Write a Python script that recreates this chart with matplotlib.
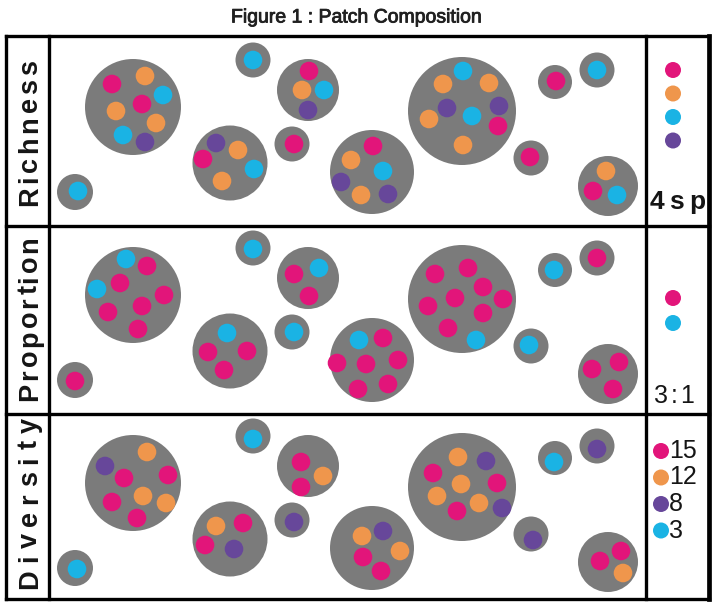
import matplotlib
matplotlib.use("Agg")
import matplotlib.pyplot as plt
import matplotlib.patheffects as pe
from matplotlib.patches import Circle
from matplotlib.font_manager import FontProperties
from matplotlib.textpath import TextToPath

# species colours
cols = {'m': '#e2157a', 'o': '#ef964c', 'c': '#1ab3e4', 'p': '#67479a'}
grey = '#7b7b7b'

title = "Figure 1 : Patch Composition"
row_names = ["Richness", "Proportion", "Diversity"]

# patch centres / radii (pixels, top panel), same layout repeated in each row
patch_x = [133, 253, 308, 230, 292, 75, 462, 372, 555, 597, 531, 608]
patch_y = [107, 60, 90, 163, 144, 192, 111, 172, 82, 70, 158, 186]
patch_r = [48, 17.5, 31, 37.5, 17.5, 18, 54, 42, 17, 17.5, 17.5, 30]
row_shift = [0, 188, 376]

# dots inside patches: (x, y, species)
dots_rich = [(112, 84, 'm'), (145, 76, 'o'), (163, 95, 'c'), (142, 104, 'm'), (116, 111, 'o'),
             (156, 123, 'o'), (123, 135, 'c'), (145, 142, 'p'),
             (253, 60, 'c'),
             (309, 71, 'm'), (302, 90, 'o'), (324, 90, 'c'), (308, 110, 'p'),
             (216, 143, 'p'), (238, 150, 'o'), (203, 159, 'm'), (254, 169, 'c'), (222, 181, 'o'),
             (294, 144, 'm'), (78, 191, 'c'),
             (463, 71, 'c'), (443, 84, 'o'), (489, 83, 'o'), (447, 108, 'p'), (472, 116, 'c'),
             (499, 106, 'p'), (429, 119, 'o'), (498, 126, 'm'), (463, 145, 'o'),
             (373, 146, 'm'), (351, 160, 'o'), (383, 171, 'c'), (341, 182, 'p'), (361, 195, 'o'),
             (388, 194, 'p'),
             (556, 81, 'm'), (597, 70, 'c'), (530, 157, 'm'),
             (606, 171, 'o'), (593, 191, 'm'), (617, 195, 'c')]

dots_prop = [(126, 259, 'c'), (147, 266, 'm'), (97, 289, 'c'), (120, 283, 'm'), (164, 295, 'm'),
             (108, 312, 'm'), (142, 306, 'm'), (138, 329, 'm'),
             (253, 249, 'c'),
             (294, 274, 'm'), (319, 268, 'c'), (309, 296, 'm'),
             (227, 333, 'c'), (208, 352, 'm'), (247, 351, 'm'), (224, 370, 'm'),
             (294, 332, 'c'), (75, 381, 'm'),
             (435, 274, 'm'), (468, 268, 'm'), (483, 287, 'm'), (455, 298, 'm'), (503, 299, 'm'),
             (428, 306, 'm'), (483, 313, 'm'), (448, 328, 'm'), (476, 340, 'c'),
             (359, 340, 'c'), (383, 338, 'm'), (337, 363, 'm'), (366, 364, 'm'), (398, 360, 'm'),
             (358, 389, 'm'), (388, 384, 'm'),
             (554, 270, 'c'), (597, 258, 'm'), (529, 345, 'c'),
             (592, 369, 'm'), (619, 362, 'm'), (613, 389, 'm')]

dots_div = [(105, 466, 'p'), (147, 452, 'o'), (124, 478, 'm'), (168, 475, 'm'), (143, 496, 'o'),
            (112, 502, 'm'), (166, 503, 'o'), (137, 518, 'm'),
            (253, 439, 'c'),
            (301, 462, 'm'), (323, 476, 'o'), (301, 487, 'm'),
            (216, 526, 'o'), (243, 523, 'm'), (205, 545, 'm'), (234, 549, 'p'),
            (294, 522, 'p'), (77, 569, 'c'),
            (458, 457, 'o'), (486, 461, 'p'), (433, 473, 'm'), (461, 484, 'o'), (497, 483, 'm'),
            (437, 496, 'o'), (479, 503, 'o'), (457, 511, 'm'), (502, 508, 'p'),
            (362, 536, 'o'), (383, 531, 'p'), (363, 557, 'm'), (400, 551, 'o'), (381, 571, 'm'),
            (554, 462, 'c'), (597, 449, 'p'), (533, 540, 'p'),
            (600, 561, 'm'), (621, 551, 'm'), (623, 573, 'o')]

# legend column
leg_rich = ['m', 'o', 'c', 'p']
leg_prop = ['m', 'c']
leg_div = ['m', 'o', 'p', 'c']
leg_div_counts = ['15', '12', '8', '3']
row_notes = ['4sp', '3:1']

fig = plt.figure(figsize=(7.13, 6.04), dpi=100)
ax = fig.add_axes([0, 0, 1, 1])
ax.set_xlim(0, 713)
ax.set_ylim(604, 0)
ax.axis('off')

# patches and dots
for sh in row_shift:
    for x, y, r in zip(patch_x, patch_y, patch_r):
        ax.add_patch(Circle((x, y + sh), r, color=grey, lw=0))
for d in dots_rich + dots_prop + dots_div:
    ax.add_patch(Circle((d[0], d[1]), 9.3, color=cols[d[2]], lw=0))

# frame
top, bot = 36, 599
rows = [36, 226, 414, 599]
lw = 2.4
ax.plot([6, 6], [top, bot], color='k', lw=lw, solid_capstyle='projecting')
ax.plot([709, 709], [top, bot], color='k', lw=3.4, solid_capstyle='projecting')
for y in rows:
    ax.plot([6, 709], [y, y], color='k', lw=lw, solid_capstyle='projecting')
ax.plot([49, 49], [top, bot], color='k', lw=lw)
ax.plot([646, 646], [top, bot], color='k', lw=lw)

ax.text(357, 18, title, ha='center', va='center', fontsize=14,
        family='Liberation Sans', color='#202020',
        path_effects=[pe.withStroke(linewidth=0.6, foreground='#202020')])

# letter spaced text between two positions (vertical = reads bottom to top)
ttp = TextToPath()
def spaced(s, p0, p1, base, size, weight='normal', vertical=False):
    prop = FontProperties(family='Liberation Sans', size=size, weight=weight)
    k = 100 / 72
    wfull = ttp.get_text_width_height_descent(s, prop, ismath=False)[0] * k
    gap = (abs(p1 - p0) - wfull) / (len(s) - 1)
    for i, ch in enumerate(s):
        off = 0.0
        if i > 0:
            off = ttp.get_text_width_height_descent(s[:i], prop, ismath=False)[0] * k + gap * i
        if vertical:
            ax.text(base, p0 - off, ch, rotation=90, rotation_mode='anchor',
                    ha='left', va='baseline', fontproperties=prop, color='#151515')
        else:
            ax.text(p0 + off, base, ch, ha='left', va='baseline',
                    fontproperties=prop, color='#151515')

spaced(row_names[0], 206, 60, 37, 19.5, 'bold', vertical=True)
spaced(row_names[1], 401, 236, 37, 19.5, 'bold', vertical=True)
spaced(row_names[2], 589, 418, 37, 19.5, 'bold', vertical=True)

# legends
for i, s in enumerate(leg_rich):
    ax.add_patch(Circle((673, 70 + i * 23.5), 8, color=cols[s], lw=0))
for i, s in enumerate(leg_prop):
    ax.add_patch(Circle((673, 298 + i * 25), 8, color=cols[s], lw=0))
for i, s in enumerate(leg_div):
    ax.add_patch(Circle((661, 451 + i * 26.5), 8, color=cols[s], lw=0))
    ax.text(669, 451 + i * 26.5, leg_div_counts[i], ha='left', va='center',
            fontsize=18, family='Liberation Sans', color='#151515')
spaced(row_notes[0], 650, 705, 209, 19, 'bold')
spaced(row_notes[1], 654, 694, 403, 18)

fig.savefig('out.png', dpi=100)
